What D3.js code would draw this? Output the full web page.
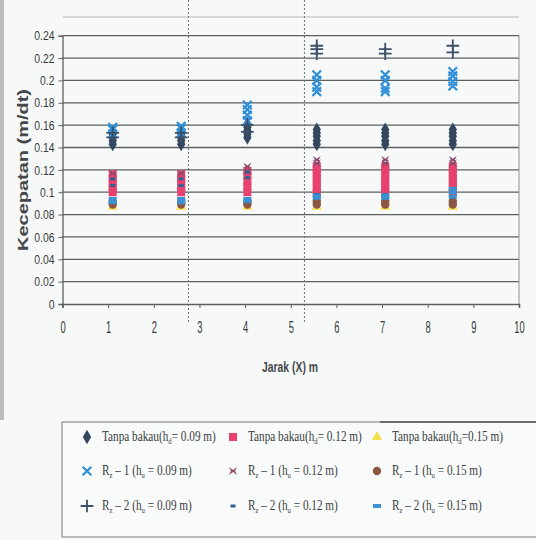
<!DOCTYPE html>
<html>
<head>
<meta charset="utf-8">
<script src="https://cdn.jsdelivr.net/npm/d3@7"></script>
<style>
    body { margin: 0; background: #f6f9f8; }
    #chart { width: 536px; height: 540px; }
</style>
</head>
<body>
<div id="chart"></div>
<script>
// measurement positions along the flume (Jarak X, m)
const column_x = [1.1, 2.6, 4.05, 5.57, 7.07, 8.55];
// dotted lines marking the zones
const divider_x = [2.76, 5.3];

const x_ticks = [0, 1, 2, 3, 4, 5, 6, 7, 8, 9, 10];
const y_ticks = [0, 0.02, 0.04, 0.06, 0.08, 0.1, 0.12, 0.14, 0.16, 0.18, 0.2, 0.22, 0.24];

// velocity readings per column (m/dt), one list per series
const tanpa_009 = [
    [0.143, 0.146, 0.149, 0.152], [0.143, 0.146, 0.149, 0.152], [0.149, 0.152, 0.155, 0.158, 0.161],
    [0.143, 0.146, 0.15, 0.153, 0.156], [0.143, 0.146, 0.15, 0.153, 0.156], [0.143, 0.146, 0.15, 0.153, 0.156]];
const tanpa_012 = [
    [0.1, 0.104, 0.108, 0.112, 0.116], [0.1, 0.104, 0.108, 0.112, 0.116], [0.1, 0.105, 0.11, 0.115, 0.119],
    [0.1, 0.104, 0.108, 0.112, 0.116, 0.12, 0.123], [0.1, 0.104, 0.108, 0.112, 0.116, 0.12, 0.123],
    [0.1, 0.104, 0.108, 0.112, 0.116, 0.12, 0.123]];
const tanpa_015 = [[0.087], [0.087], [0.087], [0.087], [0.087], [0.087]];
const rz1_009 = [
    [0.152, 0.156, 0.158], [0.153, 0.157, 0.159], [0.164, 0.169, 0.174, 0.178],
    [0.19, 0.194, 0.2, 0.205], [0.19, 0.193, 0.2, 0.205], [0.195, 0.199, 0.204, 0.208]];
const rz1_012 = [[0.117], [0.117], [0.119, 0.123], [0.126, 0.129], [0.126, 0.129], [0.126, 0.129]];
const rz1_015 = [[0.089, 0.091], [0.089, 0.091], [0.089, 0.091], [0.089, 0.092], [0.089, 0.092], [0.089, 0.092]];
const rz2_009 = [[0.149, 0.153], [0.149, 0.153], [0.154, 0.16], [0.224, 0.228, 0.231], [0.224, 0.228], [0.225, 0.231]];
const rz2_012 = [[0.106, 0.112], [0.106, 0.112], [0.113, 0.118], [0.098], [0.098], [0.1]];
const rz2_015 = [[0.091, 0.094], [0.091, 0.094], [0.092, 0.094], [0.095, 0.097], [0.095, 0.097], [0.096, 0.1, 0.103]];

const series = [
    {name: "Tanpa bakau(h", sub: "d", tail: "= 0.09 m)", values: tanpa_009, shape: "diamond", color: "#34475f"},
    {name: "Tanpa bakau(h", sub: "d", tail: "= 0.12 m)", values: tanpa_012, shape: "square", color: "#e8416f"},
    {name: "Tanpa bakau(h", sub: "d", tail: "=0.15 m)", values: tanpa_015, shape: "triangle", color: "#f3e04a"},
    {name: "R", sub: "z", tail: " \u2013 1 (h", sub2: "u", tail2: " = 0.09 m)", values: rz1_009, shape: "times", color: "#2f8fd8"},
    {name: "R", sub: "z", tail: " \u2013 1 (h", sub2: "u", tail2: " = 0.12 m)", values: rz1_012, shape: "bowtie", color: "#8e4a6c"},
    {name: "R", sub: "z", tail: " \u2013 1 (h", sub2: "u", tail2: " = 0.15 m)", values: rz1_015, shape: "circle", color: "#8d5744"},
    {name: "R", sub: "z", tail: " \u2013 2 (h", sub2: "u", tail2: " = 0.09 m)", values: rz2_009, shape: "plus", color: "#3b5068"},
    {name: "R", sub: "z", tail: " \u2013 2 (h", sub2: "u", tail2: " = 0.12 m)", values: rz2_012, shape: "dot", color: "#2d6390"},
    {name: "R", sub: "z", tail: " \u2013 2 (h", sub2: "u", tail2: " = 0.15 m)", values: rz2_015, shape: "dash", color: "#3a90d2"}
];

function draw_marker(g, shape, color, x, y) {
    if (shape === "diamond") {
        g.append("path").attr("d", d3.symbol(d3.symbolDiamond, 60)())
            .attr("transform", `translate(${x},${y})`).attr("fill", color);
    } else if (shape === "square") {
        g.append("rect").attr("x", x - 4).attr("y", y - 4).attr("width", 8).attr("height", 8).attr("fill", color);
    } else if (shape === "triangle") {
        g.append("path").attr("d", d3.symbol(d3.symbolTriangle, 45)())
            .attr("transform", `translate(${x},${y})`).attr("fill", color);
    } else if (shape === "circle") {
        g.append("circle").attr("cx", x).attr("cy", y).attr("r", 4.2).attr("fill", color);
    } else if (shape === "times") {
        g.append("path").attr("d", d3.symbol(d3.symbolTimes, 50)())
            .attr("transform", `translate(${x},${y})`)
            .attr("fill", "none").attr("stroke", color).attr("stroke-width", 2.2);
    } else if (shape === "bowtie") {
        g.append("path").attr("d", "M-4,-4L0,-1L4,-4L2,0L4,4L0,1L-4,4L-2,0Z")
            .attr("transform", `translate(${x},${y})`).attr("fill", color);
    } else if (shape === "plus") {
        g.append("path").attr("d", d3.symbol(d3.symbolPlus, 55)())
            .attr("transform", `translate(${x},${y})`)
            .attr("fill", "none").attr("stroke", color).attr("stroke-width", 1.8);
    } else if (shape === "dot") {
        g.append("rect").attr("x", x - 2.5).attr("y", y - 1.5).attr("width", 5).attr("height", 3).attr("fill", color);
    } else if (shape === "dash") {
        g.append("rect").attr("x", x - 4).attr("y", y - 2).attr("width", 8).attr("height", 4).attr("fill", color);
    }
}

function add_label(text_el, s) {
    text_el.append("tspan").text(s.name);
    text_el.append("tspan").attr("font-size", "9px").attr("dy", 3).text(s.sub);
    text_el.append("tspan").attr("dy", -3).text(s.tail);
    if (s.sub2) {
        text_el.append("tspan").attr("font-size", "9px").attr("dy", 3).text(s.sub2);
        text_el.append("tspan").attr("dy", -3).text(s.tail2);
    }
}

// the scan uses a narrow face, so squeeze the wider installed one
function squeeze(selection, factor) {
    selection.each(function () {
        const len = this.getComputedTextLength();
        d3.select(this).attr("textLength", len * factor).attr("lengthAdjust", "spacingAndGlyphs");
    });
}

function show_chart() {
    const width = 536;
    const height = 540;
    const margin_left = 62.5;
    const margin_right = 17;
    const margin_top = 35.7;
    const plot_bottom = 304;
    const grid_color = "#5c5f60";
    const axis_font = "'Liberation Sans', Arial, sans-serif";

    const svg = d3.select("#chart").append("svg")
        .attr("width", width)
        .attr("height", height);

    svg.append("rect").attr("width", width).attr("height", height).attr("fill", "#f6f9f8");
    // scanned page edge on the left
    svg.append("rect").attr("x", 0).attr("y", 0).attr("width", 4).attr("height", 420).attr("fill", "#b9bdbd");

    const x_scale = d3.scaleLinear().domain([0, 10]).range([margin_left, width - margin_right]);
    const y_scale = d3.scaleLinear().domain([0, 0.24]).range([plot_bottom, margin_top]);

    // frame line at the top of the chart area
    svg.append("line").attr("x1", margin_left).attr("x2", width - margin_right)
        .attr("y1", 17).attr("y2", 17).attr("stroke", "#b8bcbc").attr("stroke-width", 1);

    // horizontal grid lines
    svg.append("g").selectAll("line")
        .data(y_ticks.filter(d => d > 0))
        .join("line")
        .attr("x1", margin_left).attr("x2", width - margin_right)
        .attr("y1", d => y_scale(d)).attr("y2", d => y_scale(d))
        .attr("stroke", grid_color).attr("stroke-width", 1.3);

    // right border
    svg.append("line").attr("x1", width - margin_right).attr("x2", width - margin_right)
        .attr("y1", margin_top).attr("y2", plot_bottom).attr("stroke", "#8c9090").attr("stroke-width", 1);

    // dotted zone dividers
    svg.append("g").selectAll("line")
        .data(divider_x)
        .join("line")
        .attr("x1", d => x_scale(d)).attr("x2", d => x_scale(d))
        .attr("y1", 0).attr("y2", 322)
        .attr("stroke", "#6d7070").attr("stroke-width", 1).attr("stroke-dasharray", "2,2");

    // y axis
    const y_axis = svg.append("g")
        .attr("transform", `translate(${margin_left},0)`)
        .call(d3.axisLeft(y_scale).tickValues(y_ticks).tickFormat(d => d3.format("")(+d.toFixed(2))).tickSize(4).tickPadding(4));
    y_axis.select(".domain").attr("stroke", grid_color).attr("stroke-width", 1.3);
    y_axis.selectAll(".tick line").attr("stroke", grid_color);
    y_axis.selectAll("text").attr("font-family", axis_font).attr("font-size", "13px").attr("fill", "#383a3c")
        .call(squeeze, 0.8);

    // x axis
    const x_axis = svg.append("g")
        .attr("transform", `translate(0,${plot_bottom})`)
        .call(d3.axisBottom(x_scale).tickValues(x_ticks).tickSize(4).tickPadding(20));
    x_axis.select(".domain").attr("stroke", grid_color).attr("stroke-width", 1.6);
    x_axis.selectAll(".tick line").attr("stroke", grid_color);
    x_axis.selectAll("text").attr("font-family", axis_font).attr("font-size", "17px").attr("fill", "#383a3c")
        .attr("dy", "0.32em").call(squeeze, 0.55);

    // axis titles
    svg.append("text")
        .attr("transform", `translate(28,170) rotate(-90)`)
        .attr("text-anchor", "middle")
        .attr("font-family", axis_font)
        .attr("font-weight", "bold").attr("font-size", "15px").attr("fill", "#45484a")
        .attr("textLength", 162).attr("lengthAdjust", "spacingAndGlyphs")
        .text("Kecepatan (m/dt)");
    svg.append("text")
        .attr("x", 290).attr("y", 372)
        .attr("text-anchor", "middle")
        .attr("font-family", axis_font)
        .attr("font-weight", "bold").attr("font-size", "15px").attr("fill", "#45484a")
        .attr("textLength", 56).attr("lengthAdjust", "spacingAndGlyphs")
        .text("Jarak (X) m");

    // data points
    const marks = svg.append("g");
    series.forEach(s => {
        s.values.forEach((col, i) => {
            col.forEach(v => draw_marker(marks, s.shape, s.color, x_scale(column_x[i]), y_scale(v)));
        });
    });

    // legend
    const legend = svg.append("g");
    legend.append("rect").attr("x", 62).attr("y", 422).attr("width", 480).attr("height", 115)
        .attr("fill", "#f8fbfa").attr("stroke", "#8d9090").attr("stroke-width", 1.2);
    legend.append("line").attr("x1", 380).attr("x2", 536).attr("y1", 422).attr("y2", 422)
        .attr("stroke", "#4f5354").attr("stroke-width", 1.6);
    const legend_cols = [87, 233, 377];
    const legend_rows = [437, 471, 506];
    series.forEach((s, i) => {
        const cx = legend_cols[i % 3];
        const cy = legend_rows[Math.floor(i / 3)];
        const g = legend.append("g");
        draw_marker(g, s.shape, s.color, cx, cy);
        const t = g.append("text")
            .attr("transform", `translate(${cx + 15},${cy + 4}) scale(0.75,1)`)
            .attr("font-family", "'Liberation Serif', 'Times New Roman', serif")
            .attr("font-size", "15px").attr("fill", "#3a3c3e");
        add_label(t, s);
    });
}

show_chart();
</script>
</body>
</html>
